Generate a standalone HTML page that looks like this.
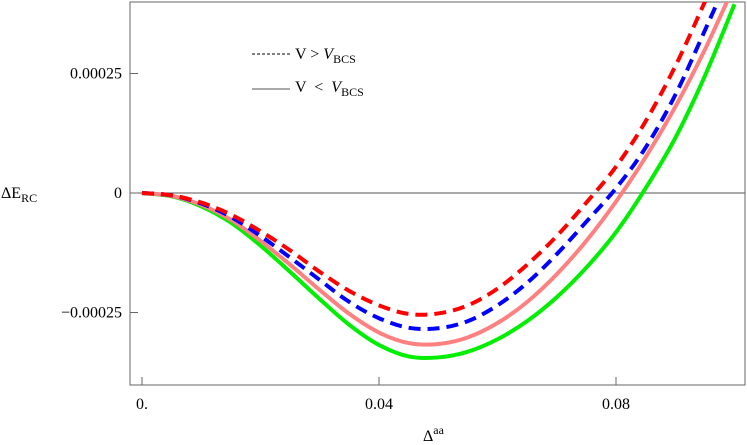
<!DOCTYPE html>
<html><head><meta charset="utf-8"><style>
body{margin:0;background:#fff}
svg{display:block;font-family:"Liberation Serif",serif}
</style></head><body>
<svg id="chart" width="747" height="445" viewBox="0 0 747 445">
<defs><clipPath id="clip"><rect x="130" y="2" width="615" height="383"/></clipPath></defs>
<rect x="130" y="2" width="615" height="383" fill="none" stroke="#666" stroke-width="1"/>
<g id="axes"></g>
<g id="series" clip-path="url(#clip)"></g>
<g>
<line x1="252" y1="54" x2="290" y2="54" stroke="#000" stroke-width="1" stroke-dasharray="3,2"/>
<text x="295" y="59" font-size="16">V &gt; <tspan font-style="italic">V</tspan><tspan font-size="12" dy="4">BCS</tspan></text>
<line x1="252" y1="89" x2="290" y2="89" stroke="#555" stroke-width="1"/>
<text x="295" y="92" font-size="16">V &#160;&lt;&#160; <tspan font-style="italic">V</tspan><tspan font-size="12" dy="4">BCS</tspan></text>
</g>
<text x="1" y="198" font-size="16">ΔE<tspan font-size="12" dy="4">RC</tspan></text>
<text x="423" y="441" font-size="16">Δ<tspan font-size="12" dy="-7">aa</tspan></text>
</svg>
<script>
const xValues=[0,0.005,0.01,0.015,0.02,0.025,0.03,0.035,0.04,0.045,0.05,0.055,0.06,0.065,0.07,0.075,0.08,0.085,0.09,0.095,0.1];
const redValues=[0,-0.05,-0.2,-0.45,-0.8,-1.2,-1.65,-2.05,-2.35,-2.53,-2.52,-2.35,-2.0,-1.5,-0.9,-0.2,0.55,1.5,2.65,4.0,5.4];
const blueValues=[0,-0.05,-0.22,-0.5,-0.9,-1.35,-1.82,-2.28,-2.62,-2.82,-2.83,-2.68,-2.35,-1.88,-1.28,-0.6,0.1,0.95,2.05,3.4,4.8];
const pinkValues=[0,-0.06,-0.25,-0.56,-1.0,-1.5,-2.03,-2.53,-2.92,-3.14,-3.16,-3.02,-2.72,-2.28,-1.7,-1.0,-0.18,0.75,1.8,3.0,4.35];
const greenValues=[0,-0.07,-0.28,-0.62,-1.1,-1.65,-2.22,-2.76,-3.18,-3.42,-3.44,-3.32,-3.06,-2.68,-2.18,-1.56,-0.82,0.1,1.15,2.45,3.95];
const xTicks=[0,0.04,0.08];
const xTickLabels=["0.","0.04","0.08"];
const yTicks=[2.5,0,-2.5];
const yTickLabels=["0.00025","0","\u22120.00025"];
const NS="http://www.w3.org/2000/svg";
const X=v=>142+v*5925;
const Y=v=>193-v*47.8;
const axes=document.getElementById('axes');
const ser=document.getElementById('series');
function mk(t,a,p){const e=document.createElementNS(NS,t);for(const k in a)e.setAttribute(k,a[k]);p.appendChild(e);return e;}
const zl=mk('line',{x1:130,x2:745,y1:Y(0),y2:Y(0),stroke:'#555','stroke-width':1},axes);


xTicks.forEach((t,i)=>{
 const l=mk('line',{x1:X(t),x2:X(t),y1:385,y2:377,stroke:'#666'},axes);
 
 
 const tx=mk('text',{x:X(t),y:409,'text-anchor':'middle','font-size':16},axes);
 tx.textContent=xTickLabels[i];
 
 
});
yTicks.forEach((t,i)=>{
 const l=mk('line',{x1:130,x2:138,y1:Y(t),y2:Y(t),stroke:'#666'},axes);
 
 
 const tx=mk('text',{x:122,y:Y(t)+5,'text-anchor':'end','font-size':16},axes);
 tx.textContent=yTickLabels[i];
 
 
});
function draw(vals,color,dash,name){
 const pts=xValues.map((x,i)=>[X(x),Y(vals[i])]);
 let d='M'+pts[0][0]+','+pts[0][1];
 for(let i=0;i<pts.length-1;i++){
  const p0=pts[Math.max(0,i-1)],p1=pts[i],p2=pts[i+1],p3=pts[Math.min(pts.length-1,i+2)];
  d+=' C'+(p1[0]+(p2[0]-p0[0])/6)+','+(p1[1]+(p2[1]-p0[1])/6)+' '+(p2[0]-(p3[0]-p1[0])/6)+','+(p2[1]-(p3[1]-p1[1])/6)+' '+p2[0]+','+p2[1];
 }
 const a={d:d,fill:'none',stroke:color,'stroke-width':4};
 if(dash)a['stroke-dasharray']='12,7';
 const p=mk('path',a,ser);
 
 
}
draw(greenValues,'#00ee00',false,'green-solid-series');
draw(pinkValues,'#ff8080',false,'pink-solid-series');
draw(blueValues,'#0000ff',true,'blue-dashed-series');
draw(redValues,'#ff0000',true,'red-dashed-series');
</script>
</body></html>
